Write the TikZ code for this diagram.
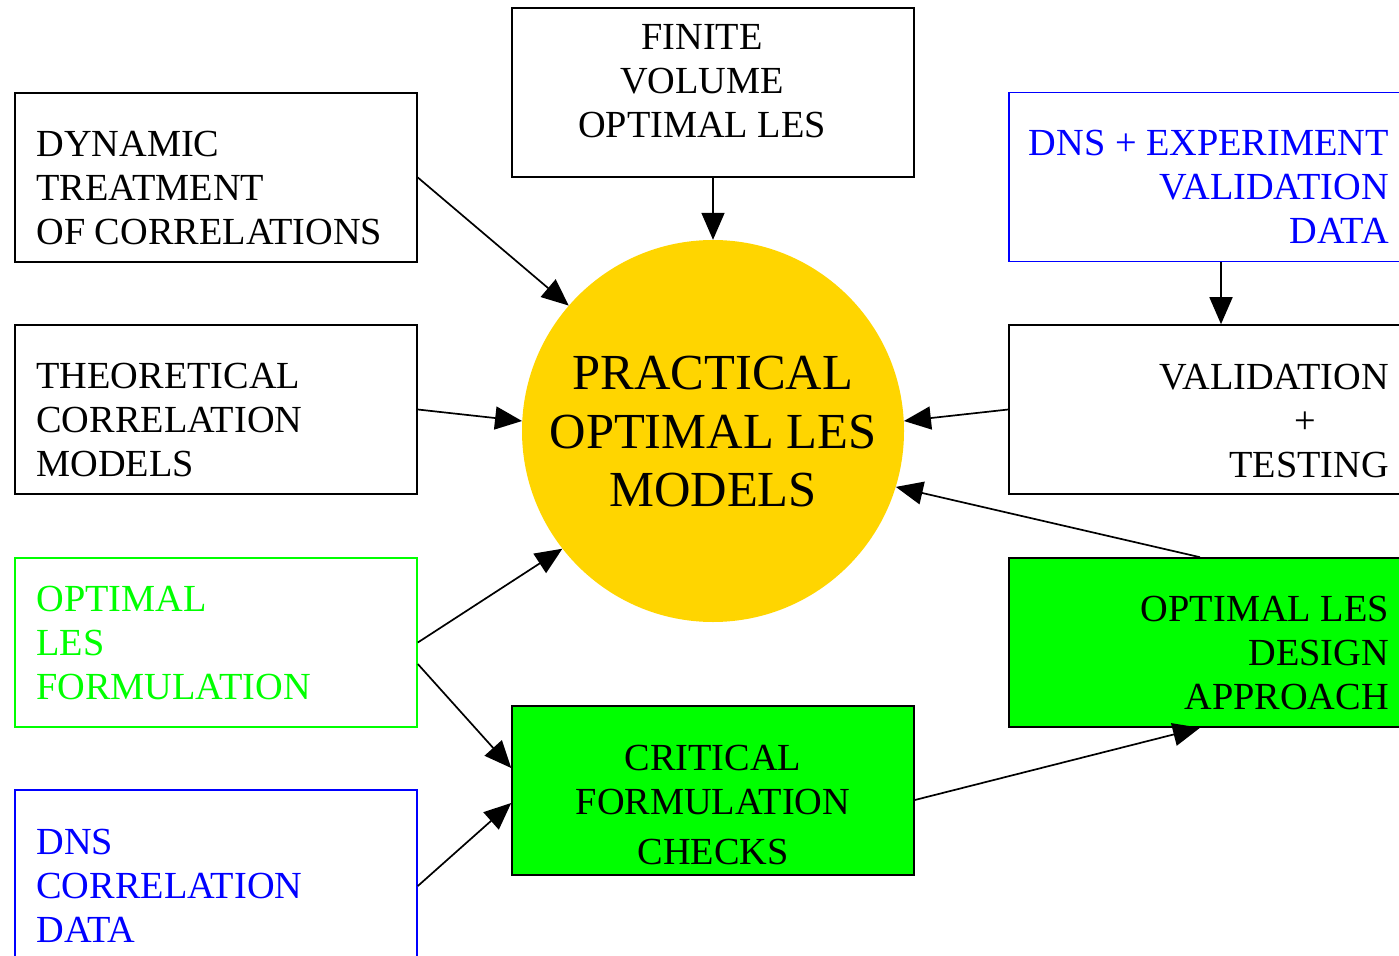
\documentclass[tikz,border=0pt]{standalone}
\usepackage{fontspec}
\setmainfont{Liberation Serif}
\usetikzlibrary{arrows.meta,calc}
\definecolor{cgold}{RGB}{255,213,0}
\definecolor{cgreen}{RGB}{0,255,0}
\definecolor{cblue}{RGB}{0,0,255}
\begin{document}
\begin{tikzpicture}[x=1pt,y=-1pt,
  box/.style={draw,line width=1.6pt,rectangle,minimum width=402pt,minimum height=169pt,inner sep=0pt},
  txt/.style={inner sep=0pt,font=\fontsize{38.3}{44}\selectfont},
  bigtxt/.style={inner sep=0pt,align=center,font=\fontsize{50.5}{58.5}\selectfont},
  arr/.style={line width=1.7pt,-{Triangle[length=27pt,width=23pt]}}]
\useasboundingbox (0,0) rectangle (1399,955);
\clip (0,0) rectangle (1399,955);
% boxes
\node[box] (fin) at (713,92.5) {};
\node[box] (dyn) at (216,177.5) {};
\node[box] (theo) at (216,409.5) {};
\node[box,draw=cgreen] (olf) at (216,642.5) {};
\node[box,draw=cblue] (dnsc) at (216,874.5) {};
\node[box,draw=cblue] (dnse) at (1210,177) {};
\node[box] (val) at (1210,409.5) {};
\node[box,fill=cgreen] (des) at (1210,642.5) {};
\node[box,fill=cgreen] (crit) at (713,790.5) {};
\node[circle,fill=cgold,minimum size=382pt,inner sep=0pt] (circ) at (713,431) {};
% labels
\node[txt,align=center] (finl) at ($(fin.center)+(-11,-11.5)$) {FINITE\\VOLUME\\OPTIMAL LES};
\node[txt,align=left,anchor=west] (dynl) at ($(dyn.west)+(22,10.5)$) {DYNAMIC\\TREATMENT\\OF CORRELATIONS};
\node[txt,align=left,anchor=west] (theol) at ($(theo.west)+(22,10.5)$) {THEORETICAL\\CORRELATION\\MODELS};
\node[txt,align=left,anchor=west,text=cgreen] (olfl) at ($(olf.west)+(22,0)$) {OPTIMAL\\LES\\FORMULATION};
\node[txt,align=left,anchor=west,text=cblue] (dnscl) at ($(dnsc.west)+(22,11.5)$) {DNS\\CORRELATION\\DATA};
\node[txt,align=right,anchor=east,text=cblue] (dnsel) at (1389,187) {DNS + EXPERIMENT\\VALIDATION\\DATA};
\node[txt,align=right,anchor=east] (vall) at (1389,421) {VALIDATION\\+\rule{73pt}{0pt}\\TESTING};
\node[txt,align=right,anchor=east] (desl) at (1389,653) {OPTIMAL LES\\DESIGN\\APPROACH};
\node[txt,align=center] (critl) at (713,805) {CRITICAL\\FORMULATION\\[6pt]CHECKS};
\node[bigtxt] (circl) at (713,432) {PRACTICAL\\OPTIMAL LES\\MODELS};
% connectors
\draw[arr] (fin.south) -- (circ.north);
\draw[arr] (dyn.east) -- (circ.139);
\draw[arr] (theo.east) -- (circ.177);
\draw[arr] (olf.east) -- (circ.218);
\draw[arr] ([yshift=-21.5pt]olf.east) -- ([yshift=22.5pt]crit.west);
\draw[arr] ([yshift=-11.5pt]dnsc.east) -- ([yshift=-12.5pt]crit.west);
\draw[arr] ([yshift=-9.5pt]crit.east) -- ([xshift=-10pt]des.south);
\draw[arr] ([xshift=-10pt]des.north) -- (circ.343);
\draw[arr] (val.west) -- (circ.3);
\draw[arr] ([xshift=11pt]dnse.south) -- ([xshift=11pt]val.north);
\end{tikzpicture}
\end{document}
